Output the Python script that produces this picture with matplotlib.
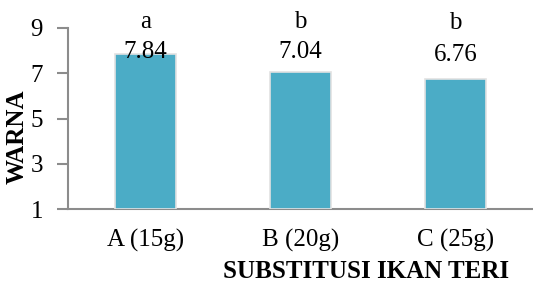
import matplotlib
matplotlib.use("Agg")
import matplotlib.pyplot as plt

categories = ["A (15g)", "B (20g)", "C (25g)"]
values = [7.84, 7.04, 6.76]
letters = ["a", "b", "b"]
yticks = [1, 3, 5, 7, 9]

plt.rcParams['font.family'] = ['Liberation Serif', 'DejaVu Serif']

fig = plt.figure(figsize=(5.33, 2.87), dpi=100)
ax = fig.add_axes([68/533, 1-209/287, 1-68/533, (209-28)/287])

x = list(range(len(categories)))
ax.bar(x, [v - 1 for v in values], bottom=1, width=0.39, color='#4BACC6',
       edgecolor='#e2e2e2', linewidth=1.2, zorder=3)

ax.set_xlim(-0.5, 2.5)
ax.set_ylim(1, 9)
ax.set_yticks(yticks)
ax.set_yticklabels([str(t) for t in yticks], fontsize=18)
ax.set_xticks(x)
ax.set_xticklabels(categories, fontsize=18)
ax.tick_params(axis='y', length=8, width=1.5, color='#8c8c8c', pad=10)
ax.tick_params(axis='x', length=0, pad=14)

for s in ['top', 'right']:
    ax.spines[s].set_visible(False)
for s in ['left', 'bottom']:
    ax.spines[s].set_color('#8c8c8c')
    ax.spines[s].set_linewidth(1.5)

label_y = [7.95, 7.95, 7.8]
letter_y = [9.27, 9.27, 9.23]
for xi, v, ly, l, lty in zip(x, values, label_y, letters, letter_y):
    ax.text(xi, ly, f"{v:.2f}", ha='center', va='center', fontsize=18, clip_on=False, zorder=5)
    ax.text(xi, lty, l, ha='center', va='center', fontsize=18, clip_on=False, zorder=5)

ax.set_xlabel("SUBSTITUSI IKAN TERI", fontsize=18, fontweight='bold')
ax.xaxis.set_label_coords(0.64, -0.348)
ax.xaxis.label.set_va('center')
ax.set_ylabel("WARNA", fontsize=18, fontweight='bold')
ax.yaxis.set_label_coords(-0.11, 0.40)
ax.yaxis.label.set_va('center')

fig.savefig("out.png", dpi=100)
